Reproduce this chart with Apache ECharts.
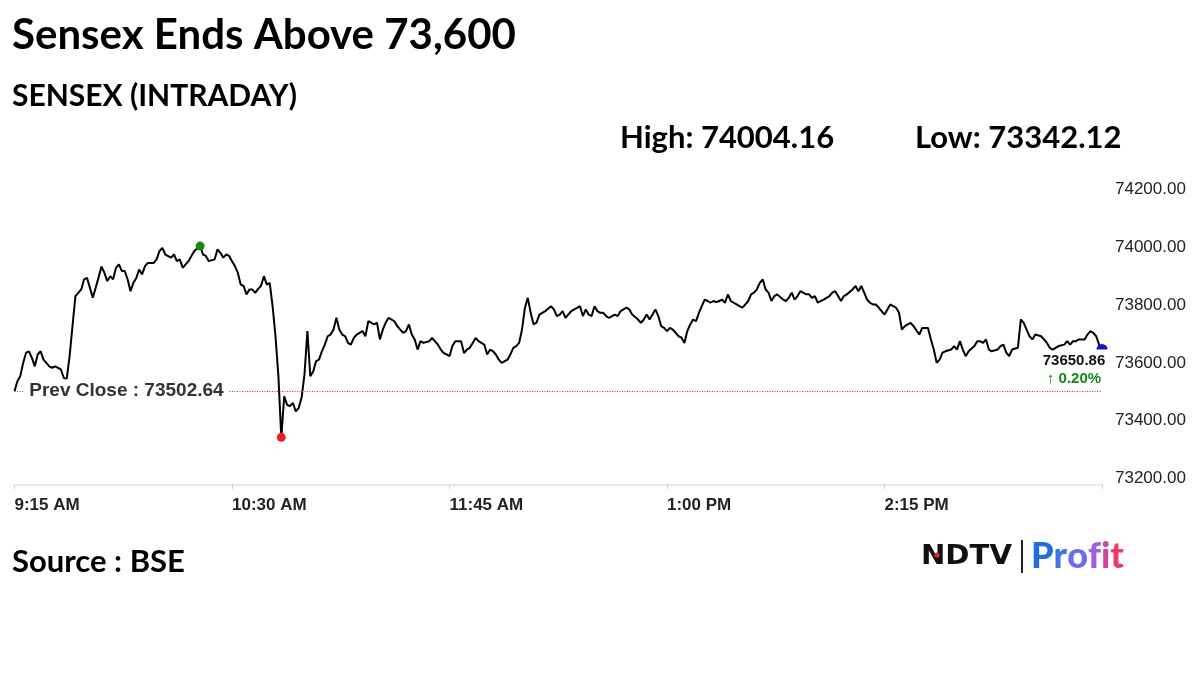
<!DOCTYPE html>
<html><head><meta charset="utf-8">
<script src="https://cdn.jsdelivr.net/npm/echarts@6/dist/echarts.min.js"></script>
<style>html,body{margin:0;padding:0;background:#fff}#c{width:1200px;height:675px}</style>
</head><body><div id="c"></div>
<script>
// minutes after 9:15 AM open
const minutes = [
  0,1,2,3,4,5,6,7,8,9,
  10,12,13,14,16,17,18,19,20,21,
  22,23,24,25,26,27,28,30,31,32,
  33,34,35,36,37,38,39,40,41,42,
  43,44,45,46,48,49,50,51,52,54,
  55,56,57,58,59,60,61,62,64,65,
  66,67,69,70,71,72,73,74,75,76,
  77,78,79,80,81,82,83,84,85,86,
  87,88,89,90,91,92,93,94,95,96,
  97,98,99,100,101,102,103,104,105,106,
  107,108,109,110,111,112,113,114,115,116,
  117,118,119,120,121,122,124,125,126,127,
  128,129,131,132,133,134,135,136,137,138,
  139,140,141,143,144,146,147,148,149,150,
  151,152,154,155,156,157,158,159,160,162,
  163,164,165,166,167,168,170,171,172,173,
  174,175,176,177,178,179,180,181,182,183,
  185,186,187,188,189,190,192,193,194,195,
  196,197,198,199,200,201,202,203,204,205,
  207,208,209,210,211,212,213,215,216,217,
  218,219,220,221,222,223,224,225,226,227,
  228,229,230,231,232,233,234,235,236,237,
  238,239,240,241,242,243,244,245,246,247,
  248,249,250,251,252,253,254,255,256,257,
  258,259,260,261,262,263,265,266,267,268,
  269,270,271,273,274,275,276,277,278,279,
  281,282,283,284,285,286,287,289,290,291,
  292,293,294,295,296,297,298,300,301,302,
  303,304,305,306,307,308,309,310,312,313,
  314,315,316,317,318,319,320,321,323,324,
  325,326,327,328,329,331,332,333,334,335,
  336,337,339,340,341,342,343,344,346,347,
  348,349,350,351,352,354,355,356,357,358,
  359,360,362,363,364,365,366,367,369,370,
  371,372,373,374,375
];
const values = [
  73502,73536,73554,73600,73635,73640,73617,73588,73629,73640,
  73611,73588,73583,73588,73577,73548,73544,73623,73727,73831,
  73842,73854,73889,73894,73860,73825,73860,73933,73912,73883,
  73900,73889,73929,73941,73918,73918,73889,73848,73877,73894,
  73923,73906,73935,73946,73946,73958,73987,73998,73975,73964,
  73975,73952,73958,73929,73941,73952,73970,73987,74004.16,73975,
  73970,73952,73958,73993,73981,73964,73975,73970,73952,73935,
  73912,73871,73866,73837,73854,73854,73842,73856,73866,73900,
  73871,73877,73796,73692,73554,73342.12,73484,73455,73450,73461,
  73432,73444,73480,73560,73710,73554,73570,73606,73611,73640,
  73663,73692,73698,73715,73756,73715,73698,73692,73669,73663,
  73686,73698,73704,73710,73692,73744,73733,73739,73681,73715,
  73739,73756,73744,73727,73715,73704,73710,73733,73698,73681,
  73646,73675,73669,73675,73686,73663,73646,73634,73629,73623,
  73658,73675,73675,73634,73646,73652,73669,73686,73675,73663,
  73629,73646,73640,73629,73611,73600,73611,73629,73652,73658,
  73669,73715,73790,73825,73773,73733,73739,73767,73773,73779,
  73796,73785,73762,73767,73779,73756,73779,73785,73790,73796,
  73762,73785,73767,73762,73796,73779,73773,73773,73762,73756,
  73767,73762,73779,73785,73791,73785,73767,73750,73738,73750,
  73767,73750,73767,73785,73762,73727,73721,73710,73721,73715,
  73704,73692,73687,73669,73710,73733,73750,73744,73773,73796,
  73819,73814,73808,73814,73810,73814,73819,73808,73837,73814,
  73808,73802,73796,73791,73802,73814,73837,73843,73854,73877,
  73889,73854,73843,73814,73831,73837,73819,73814,73825,73843,
  73819,73831,73848,73837,73837,73825,73831,73808,73814,73819,
  73831,73843,73848,73831,73814,73831,73837,73854,73866,73848,
  73866,73843,73819,73808,73802,73802,73791,73767,73785,73802,
  73796,73791,73773,73715,73727,73733,73738,73727,73698,73721,
  73721,73721,73681,73646,73600,73611,73635,73640,73646,73658,
  73646,73675,73646,73623,73640,73658,73675,73675,73669,73681,
  73646,73640,73646,73658,73663,73635,73623,73646,73652,73750,
  73738,73715,73692,73681,73698,73692,73681,73669,73652,73646,
  73652,73658,73663,73675,73663,73675,73675,73681,73681,73698,
  73710,73704,73692,73663,73650.86
];
const prevClose = 73502.64;
const xTickLabels = ['9:15 AM', '10:30 AM', '11:45 AM', '1:00 PM', '2:15 PM', ''];
const yTicks = [73200, 73400, 73600, 73800, 74000, 74200];
const titleText = 'Sensex Ends Above 73,600';
const subtitleText = 'SENSEX (INTRADAY)';
const sourceText = 'Source : BSE';

const data = minutes.map((m, i) => [m, values[i]]);
let hi = 0, lo = 0;
values.forEach((v, i) => { if (v > values[hi]) hi = i; if (v < values[lo]) lo = i; });
const last = values.length - 1;
const pct = (values[last] - prevClose) / prevClose * 100;
const AX = 'Liberation Sans, Arial, Helvetica, sans-serif';
const PF = '900 36px Lato';

const chart = echarts.init(document.getElementById('c'), null, {renderer: 'canvas'});
chart.setOption({
  animation: false,
  backgroundColor: '#fff',
  grid: {left: 14.5, right: 98, top: 189.5, bottom: 196.6},
  xAxis: {
    type: 'value', min: 0, max: 375, interval: 75, offset: 6,
    axisLine: {lineStyle: {color: '#e2e2e2', width: 1.5}},
    axisTick: {show: true, length: 5, lineStyle: {color: '#d4d4d4'}},
    splitLine: {show: false},
    axisLabel: {
      formatter: v => xTickLabels[Math.round(v / 75)] || '',
      align: 'left', margin: 12, color: '#222', fontSize: 17, fontWeight: 'bold', fontFamily: AX
    }
  },
  yAxis: {
    type: 'value', position: 'right', min: yTicks[0], max: yTicks[yTicks.length - 1], interval: 200,
    axisLine: {show: false}, axisTick: {show: false}, splitLine: {show: false},
    axisLabel: {formatter: v => v.toFixed(2), margin: 13, color: '#222', fontSize: 17, fontFamily: AX}
  },
  series: [{
    type: 'line', data: data, showSymbol: false, symbol: 'none', clip: false,
    lineStyle: {color: '#000', width: 2}, z: 3,
    markLine: {
      silent: true, symbol: 'none', label: {show: false},
      lineStyle: {type: [1, 1.5], color: '#c0392b', width: 1.2},
      data: [{yAxis: prevClose}]
    },
    markPoint: {
      silent: true,
      data: [
        {coord: [38.6, prevClose], symbol: 'circle', symbolSize: 1, itemStyle: {color: 'rgba(0,0,0,0)'},
          label: {show: true, position: 'inside', formatter: 'Prev Close : ' + prevClose.toFixed(2),
            backgroundColor: '#fff', padding: [2, 5], color: '#333', fontSize: 19, fontWeight: 'bold', fontFamily: AX}},
        {coord: [minutes[hi], values[hi]], symbol: 'circle', symbolSize: 9, itemStyle: {color: '#13891a'}, label: {show: false}},
        {coord: [minutes[lo], values[lo]], symbol: 'circle', symbolSize: 9, itemStyle: {color: '#f01e1e'}, label: {show: false}},
        {coord: [minutes[last], values[last]], symbol: 'path://M0,10 A10,10 0 0 1 20,10 Z', symbolSize: [11, 5.5],
          symbolOffset: [0, -1.5], itemStyle: {color: '#1414c8'}, label: {show: false}},
        {coord: [minutes[last], values[last]], symbol: 'circle', symbolSize: 1, itemStyle: {color: 'rgba(0,0,0,0)'},
          label: {show: true, position: 'inside', offset: [-28, 22],
            formatter: '{a|' + values[last].toFixed(2) + '}\n{b|\u2191 ' + pct.toFixed(2) + '%}',
            rich: {
              a: {fontSize: 15, fontWeight: 'bold', color: '#111', fontFamily: AX, lineHeight: 18, align: 'center'},
              b: {fontSize: 15, fontWeight: 'bold', color: '#16881a', fontFamily: AX, lineHeight: 18, align: 'center'}
            }}}
      ]
    }
  }],
  graphic: [
    {type: 'text', x: 12, y: 35, style: {text: titleText, font: 'bold 42px Lato', fill: '#000', textVerticalAlign: 'middle'}},
    {type: 'text', x: 12, y: 96, style: {text: subtitleText, font: 'bold 30px Lato', fill: '#000', textVerticalAlign: 'middle'}},
    {type: 'text', x: 620, y: 138, style: {text: 'High: ' + values[hi].toFixed(2), font: 'bold 31px Lato', fill: '#000', textVerticalAlign: 'middle'}},
    {type: 'text', x: 915, y: 138, style: {text: 'Low: ' + values[lo].toFixed(2), font: 'bold 31px Lato', fill: '#000', textVerticalAlign: 'middle'}},
    {type: 'text', x: 12, y: 562, style: {text: sourceText, font: 'bold 31px Lato', fill: '#000', textVerticalAlign: 'middle'}},
    {type: 'text', x: 921, y: 557, scaleX: 1.12, style: {text: 'NDTV', font: 'bold 26px "DejaVu Sans"', fill: '#111', textVerticalAlign: 'middle'}},
    {type: 'circle', shape: {cx: 937, cy: 555, r: 2.6}, style: {fill: '#e3262d'}},
    {type: 'rect', shape: {x: 1021, y: 540, width: 2, height: 33}, style: {fill: '#222'}},
    {type: 'text', x: 1031, y: 556, style: {
      text: '{p|P}{r|r}{o|o}{f|f}{i|i}{t|t}', textVerticalAlign: 'middle', font: PF,
      rich: {
        p: {fill: '#1f6fe2', font: PF},
        r: {fill: '#3f74ea', font: PF},
        o: {fill: '#6a6cf0', font: PF},
        f: {fill: '#9c5fe0', font: PF},
        i: {fill: '#cc4a9e', font: PF},
        t: {fill: '#ee3a6c', font: PF}
      }}}
  ]
});
</script></body></html>
